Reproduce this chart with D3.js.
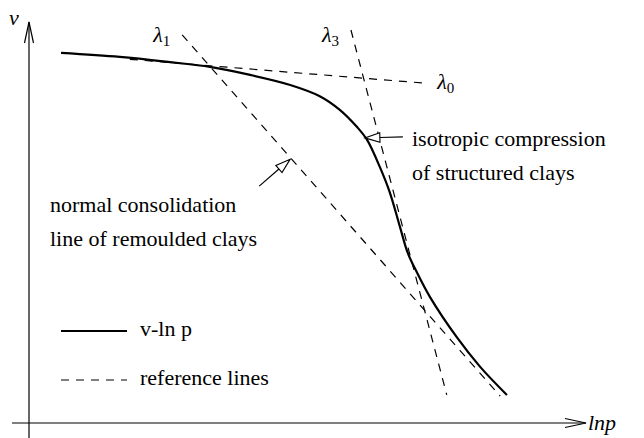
<!DOCTYPE html>
<html>
<head>
<meta charset="utf-8">
<script src="https://cdn.jsdelivr.net/npm/d3@7"></script>
<style>
  html, body { margin: 0; padding: 0; background: #fff; }
  svg { display: block; }
</style>
</head>
<body>
<svg id="chart" width="644" height="438"></svg>
<script>
// v – ln p compression curve of a structured clay (schematic units 0..100)
const curveLnp = [5.75, 16.3, 25.3, 32.5, 39.7, 46.9, 52.2, 55.8, 58.9, 60.7, 63.0, 64.8, 66.6, 68.0, 69.7, 72.0, 76.8, 81.0, 85.8];
const curveV   = [92.3, 91.3, 90.0, 88.8, 86.8, 84.3, 81.5, 78.1, 73.8, 70.6, 63.8, 57.4, 48.9, 42.4, 37.4, 31.4, 21.4, 14.0, 7.0];

// straight reference lines (start, end) in the same units
const refSubscripts = ["0", "1", "3"];
const refLnp = [[18.1, 70.6], [27.5, 84.6], [57.8, 75.0]];
const refV   = [[90.7, 84.8], [96.8, 6.7], [98.0, 7.0]];

// annotation callouts: arrow tip (lnp, v) and text lines
const noteTipLnp = [60.3, 46.9];
const noteTipV   = [71.1, 65.8];
const noteLines  = [["isotropic compression", "of structured clays"],
                    ["normal consolidation", "line of remoulded clays"]];

// legend entries and axis titles
const legendLabels = ["v-ln p", "reference lines"];
const axisTitles = { x: "lnp", y: "v" };

// ---------------------------------------------------------------
const FONT = '"Liberation Serif", "Times New Roman", serif';
const FS = 22, SUB = 15;

const svg = d3.select("#chart");
const x = d3.scaleLinear().domain([0, 100]).range([29, 586]);
const y = d3.scaleLinear().domain([0, 100]).range([423, 22]);

const ink = "#000";
const dash = "8,7";

function label(parent, size) {
  return parent.append("text")
    .style("font-family", FONT)
    .style("font-size", size + "px")
    .style("fill", ink);
}

// axes with open chevron heads
const axes = svg.append("g").attr("stroke", ink).attr("stroke-width", 1.2).attr("fill", "none");
axes.append("line").attr("x1", x(0) - 17).attr("x2", x(100)).attr("y1", y(0)).attr("y2", y(0));
axes.append("line").attr("x1", x(0)).attr("x2", x(0)).attr("y1", y(0) + 16).attr("y2", y(100));
axes.append("path").attr("d", d3.line()([[x(100) - 21, y(0) - 4.5], [x(100), y(0)], [x(100) - 21, y(0) + 4.5]]));
axes.append("path").attr("d", d3.line()([[x(0) - 4.5, y(100) + 21], [x(0), y(100)], [x(0) + 4.5, y(100) + 21]]));

label(svg, FS).attr("x", x(100) + 2).attr("y", y(0) + 7)
  .style("font-style", "italic").text(axisTitles.x);
label(svg, FS).attr("x", x(0) - 20).attr("y", y(100) + 3)
  .style("font-style", "italic").text(axisTitles.y);

// reference lines
const refs = svg.append("g").attr("stroke", ink).attr("stroke-width", 1.2)
  .attr("stroke-dasharray", dash).attr("fill", "none");
refLnp.forEach((lx, i) => {
  refs.append("line")
    .attr("x1", x(lx[0])).attr("y1", y(refV[i][0]))
    .attr("x2", x(lx[1])).attr("y2", y(refV[i][1]));
});

// λ labels: λ0 beside the far end, λ1 and λ3 beside the upper ends
const lamOffsets = [[1, 15, 6], [0, -29, 7], [0, -29, 12]];
refSubscripts.forEach((s, i) => {
  const [end, dx, dy] = lamOffsets[i];
  const t = label(svg, FS)
    .attr("x", x(refLnp[i][end]) + dx)
    .attr("y", y(refV[i][end]) + dy);
  t.append("tspan").style("font-style", "italic").text("λ");
  t.append("tspan").style("font-size", SUB + "px").attr("dy", 4).text(s);
});

// main curve
svg.append("path")
  .datum(curveLnp.map((d, i) => [d, curveV[i]]))
  .attr("fill", "none").attr("stroke", ink).attr("stroke-width", 2.2)
  .attr("stroke-linejoin", "round")
  .attr("d", d3.line().x(d => x(d[0])).y(d => y(d[1])).curve(d3.curveCatmullRom.alpha(0.5)));

// callouts: shaft + open triangular head, then text block
const tails = [[38, -1], [-31, 27]];
const textPos = [[412, 146], [50, 212]];
noteTipLnp.forEach((lx, i) => {
  const tx = x(lx), ty = y(noteTipV[i]);
  const ex = tx + tails[i][0], ey = ty + tails[i][1];
  const len = Math.hypot(ex - tx, ey - ty);
  const ux = (ex - tx) / len, uy = (ey - ty) / len;
  const hl = 15, hw = 4.7;
  const bx = tx + ux * hl, by = ty + uy * hl;
  svg.append("line").attr("x1", bx).attr("y1", by).attr("x2", ex).attr("y2", ey)
    .attr("stroke", ink).attr("stroke-width", 1.2);
  svg.append("path")
    .attr("d", d3.line()([[tx, ty], [bx - uy * hw, by + ux * hw], [bx + uy * hw, by - ux * hw]]) + "Z")
    .attr("fill", "#fff").attr("stroke", ink).attr("stroke-width", 1.1).attr("stroke-linejoin", "miter");
  noteLines[i].forEach((line, j) => {
    label(svg, FS)
      .attr("x", textPos[i][0]).attr("y", textPos[i][1] + j * 34)
      .text(line);
  });
});

// legend
const legend = svg.append("g");
const legendY = [331, 380];
legendLabels.forEach((lab, i) => {
  legend.append("line")
    .attr("x1", 61).attr("x2", 127).attr("y1", legendY[i]).attr("y2", legendY[i])
    .attr("stroke", ink).attr("stroke-width", i === 0 ? 2.2 : 1.2)
    .attr("stroke-dasharray", i === 0 ? null : dash);
  label(legend, FS)
    .attr("x", 140).attr("y", legendY[i] + 5)
    .text(lab);
});
</script>
</body>
</html>
